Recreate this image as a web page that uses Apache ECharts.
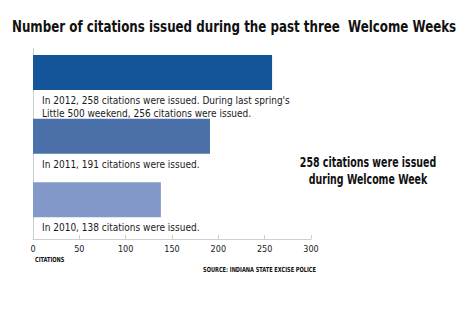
<!DOCTYPE html>
<html>
<head>
<meta charset="utf-8">
<script src="https://cdn.jsdelivr.net/npm/echarts@6/dist/echarts.min.js"></script>
<style>
  html, body { margin: 0; padding: 0; background: #fff; }
  #chart { width: 474px; height: 314px; }
</style>
</head>
<body>
<div id="chart"></div>
<script>
    // citations per Welcome Week, newest first
    var years = ['2012', '2011', '2010'];
    var citations = [258, 191, 138];
    var captions = [
        "In 2012, 258 citations were issued. During last spring's\nLittle 500 weekend, 256 citations were issued.",
        "In 2011, 191 citations were issued.",
        "In 2010, 138 citations were issued."
    ];
    var barColors = ['#14559a', '#4b70aa', '#8399c9'];
    var axisMin = 0;
    var axisMax = 300;
    var axisStep = 50;

    var narrow = "'DejaVu Sans Condensed', 'DejaVu Sans', sans-serif";

    var mainData = [];
    var idx;
    for (idx = 0; idx < citations.length; idx++) {
        mainData.push({
            value: citations[idx],
            itemStyle: {color: barColors[idx]},
            label: {formatter: captions[idx]}
        });
    }
    var zeros = citations.map(function () { return 0; });

    // condensed text pieces (no narrow font installed, so squeeze with scaleX)
    function squeezed(text, x, y, size, sx, align, lineHeight) {
        return {
            type: 'text',
            x: x,
            y: y,
            scaleX: sx,
            style: {
                text: text,
                x: 0,
                y: 0,
                font: 'bold ' + size + 'px ' + narrow,
                textAlign: align,
                textVerticalAlign: 'middle',
                lineHeight: lineHeight || size,
                fill: '#111'
            }
        };
    }

    var echartsOptions = {
        animation: false,
        grid: {left: 33, right: 163, top: 48, bottom: 75},
        xAxis: {
            type: 'value',
            min: axisMin,
            max: axisMax,
            interval: axisStep,
            splitLine: {show: false},
            axisLine: {show: true, lineStyle: {color: '#cfcfcf', width: 1}},
            axisTick: {show: true, inside: true, length: 4, lineStyle: {color: '#cfcfcf'}},
            axisLabel: {color: '#1a1a1a', fontFamily: narrow, fontSize: 9, margin: 5}
        },
        yAxis: {
            type: 'category',
            data: years,
            inverse: true,
            axisLine: {show: true, lineStyle: {color: '#cfcfcf', width: 1}},
            axisTick: {show: false},
            axisLabel: {show: false}
        },
        series: [{
            name: 'gapTop',
            type: 'bar',
            barWidth: 7,
            barGap: 0,
            data: zeros,
            itemStyle: {color: 'rgba(0,0,0,0)'},
            silent: true
        }, {
            name: 'citations',
            type: 'bar',
            barWidth: 35,
            barGap: 0,
            data: mainData,
            label: {
                show: true,
                position: [9, 39],
                align: 'left',
                verticalAlign: 'top',
                color: '#1a1a1a',
                fontFamily: narrow,
                fontSize: 10,
                lineHeight: 13
            }
        }, {
            name: 'gapBottom',
            type: 'bar',
            barWidth: 21.67,
            barGap: 0,
            data: zeros,
            itemStyle: {color: 'rgba(0,0,0,0)'},
            silent: true
        }],
        graphic: [
            squeezed('Number of citations issued during the past three  Welcome Weeks', 12, 27, 15, 0.88, 'left'),
            squeezed('258 citations were issued\nduring Welcome Week', 368, 171, 14, 0.75, 'center', 16.6),
            squeezed('CITATIONS', 35, 259, 7, 0.8, 'left'),
            squeezed('SOURCE: INDIANA STATE EXCISE POLICE', 316, 269, 7, 0.8, 'right')
        ]
    };

    var myChart = echarts.init(document.getElementById('chart'), null, {renderer: 'svg'});
    myChart.setOption(echartsOptions);
</script>
</body>
</html>
